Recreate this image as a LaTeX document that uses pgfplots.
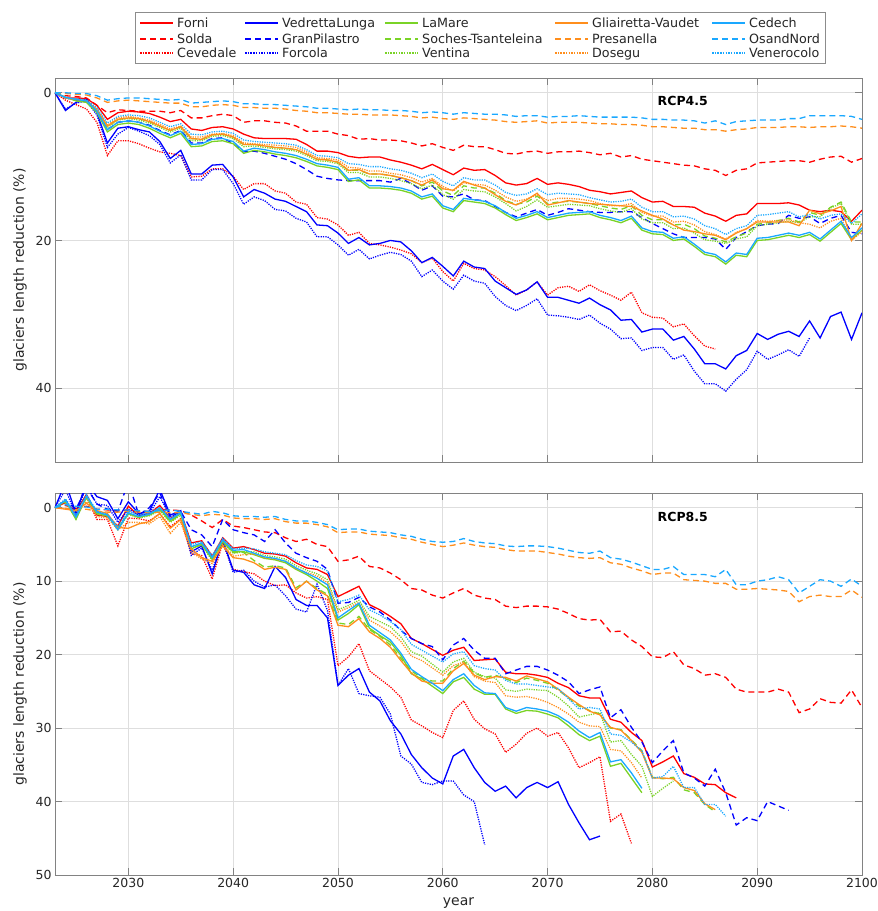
\documentclass[border=0pt]{standalone}
\usepackage{fontspec}
\setmainfont{DejaVu Sans}
\usepackage{pgfplots}
\usepackage{pgfplotstable}
\pgfplotsset{compat=1.18}

\definecolor{cr}{RGB}{255,0,0}
\definecolor{cb}{RGB}{0,0,255}
\definecolor{cg}{RGB}{122,211,38}
\definecolor{co}{RGB}{255,142,28}
\definecolor{cl}{RGB}{26,168,255}
\definecolor{axgray}{RGB}{130,130,130}

\tikzset{
  lsol/.style={line width=1.3pt, solid},
  ldas/.style={line width=1.3pt, dash pattern=on 6pt off 4pt},
  ldot/.style={line width=1.3pt, dash pattern=on 1.2pt off 1.2pt},
}

% RCP4.5
\pgfplotstableread{
yr Fo So Ce VL GP Fc LM ST Vt GV Pr Do Cd ON Vn
2023 0 0 0 0 0 0 0 0 0 0 0 0 0 0 0
2024 0.7 0.4 1.0 2.4 0.7 2.2 0.6 0.7 0.7 0.7 0.1 0.7 0.6 0.0 0.7
2025 0.7 0.5 1.6 1.3 1.0 1.4 1.1 0.9 1.0 0.9 0.2 0.9 0.9 0.1 0.8
2026 0.8 0.7 2.2 0.9 1.2 1.1 1.3 1.1 1.1 1.1 0.3 1.0 1.1 0.1 1.0
2027 1.7 1.7 4.0 2.7 2.5 3.0 2.7 2.3 2.4 2.3 0.7 2.2 2.5 0.4 2.0
2028 3.6 2.7 8.5 6.8 5.0 7.4 5.3 4.5 4.7 4.5 1.3 4.4 5.0 1.0 4.1
2029 2.7 2.3 6.5 4.8 4.0 5.6 4.3 3.6 3.7 3.6 1.1 3.4 4.0 0.8 3.2
2030 2.5 2.4 6.5 4.6 3.8 4.7 4.1 3.4 3.5 3.4 1.0 3.2 3.8 0.7 3.0
2031 2.6 2.5 6.9 5.0 4.0 5.2 4.3 3.5 3.7 3.5 1.1 3.4 4.0 0.7 3.1
2032 2.8 2.5 7.5 5.3 4.4 5.8 4.8 3.9 4.1 3.9 1.2 3.7 4.5 0.8 3.4
2033 3.3 2.5 8.0 6.6 5.1 7.0 5.5 4.5 4.7 4.5 1.3 4.3 5.2 0.9 4.0
2034 3.9 2.7 8.2 8.9 5.7 9.5 6.1 5.1 5.3 5.1 1.4 4.9 5.8 1.0 4.6
2035 3.6 2.4 8.5 7.8 5.1 8.4 5.5 4.6 4.8 4.6 1.4 4.5 5.2 0.9 4.2
2036 4.9 3.4 11.4 11.0 6.8 11.8 7.3 6.2 6.5 6.2 1.9 6.0 7.0 1.4 5.6
2037 5.1 3.4 11.3 11.0 6.8 11.8 7.2 6.3 6.5 6.3 1.9 6.0 6.9 1.3 5.7
2038 4.7 3.1 10.3 9.8 6.2 10.4 6.6 5.7 5.9 5.7 1.7 5.6 6.3 1.2 5.3
2039 4.6 2.9 10.3 9.7 6.1 10.4 6.5 5.6 5.8 5.6 1.6 5.5 6.2 1.1 5.2
2040 4.9 3.1 11.3 11.4 6.9 12.3 6.9 6.0 6.2 6.0 1.7 5.8 6.6 1.2 5.5
2041 5.6 4.0 13.1 14.1 8.0 15.1 8.2 7.0 7.3 7.0 2.0 6.8 7.9 1.5 6.4
2042 6.1 3.8 12.3 13.1 7.9 14.1 7.8 7.0 7.2 7.0 2.0 6.9 7.5 1.5 6.6
2043 6.2 3.8 12.3 13.6 8.2 14.6 8.0 7.2 7.4 7.2 2.1 7.0 7.7 1.6 6.7
2044 6.2 4.0 13.3 14.4 8.6 15.8 8.3 7.4 7.6 7.4 2.1 7.1 8.0 1.6 6.8
2045 6.2 4.1 13.6 14.7 9.0 16.0 8.5 7.5 7.7 7.5 2.2 7.2 8.2 1.7 6.9
2046 6.3 4.5 14.8 15.4 9.6 17.0 8.8 7.7 7.9 7.7 2.4 7.4 8.5 1.8 7.1
2047 7.0 5.2 15.1 16.1 10.4 17.5 9.3 8.3 8.5 8.3 2.5 8.0 9.0 1.9 7.7
2048 7.9 5.2 16.9 17.9 11.3 19.5 9.9 9.0 9.2 9.0 2.7 8.8 9.6 2.1 8.5
2049 7.9 5.2 17.1 18.0 11.6 19.5 10.1 9.1 9.3 9.1 2.7 8.9 9.8 2.1 8.6
2050 8.1 5.6 17.9 19.0 11.8 20.6 10.4 9.4 9.6 9.4 2.8 9.1 10.1 2.2 8.8
2051 8.6 5.8 19.3 20.4 11.9 22.0 12.0 10.5 10.8 10.5 2.9 10.1 11.7 2.3 9.6
2052 8.8 6.3 18.9 19.6 11.9 21.2 11.8 10.5 10.8 10.4 2.9 10.2 11.5 2.2 9.7
2053 8.7 6.2 20.4 20.6 11.9 22.5 12.9 11.0 11.4 11.0 3.0 10.6 12.6 2.3 10.0
2054 8.7 6.4 20.6 20.4 11.9 22.0 12.9 11.0 11.4 11.0 3.0 10.6 12.6 2.3 10.0
2055 9.1 6.4 20.9 20.0 12.1 21.6 13.0 11.2 11.6 11.2 3.0 10.9 12.7 2.4 10.3
2056 9.4 6.5 21.3 20.2 11.6 21.9 13.2 11.5 11.9 11.5 3.1 11.1 12.9 2.4 10.5
2057 9.8 6.8 21.8 21.4 12.3 22.8 13.6 11.9 12.3 11.9 3.2 11.5 13.3 2.5 10.9
2058 10.3 7.2 23.0 23.0 13.2 24.9 14.4 12.6 13.0 12.5 3.4 12.1 14.1 2.7 11.5
2059 9.7 6.9 22.4 22.3 12.6 24.0 14.0 12.1 12.5 11.8 3.3 11.6 13.7 2.6 11.0
2060 10.4 7.4 24.2 23.5 14.0 25.5 15.6 13.3 13.8 13.0 3.5 12.7 15.3 2.7 12.0
2061 11.1 7.8 25.5 24.8 14.1 26.6 16.1 13.9 14.4 13.2 3.6 13.3 15.8 2.9 12.6
2062 10.2 7.1 23.1 22.8 13.7 24.7 14.6 12.6 13.1 12.0 3.4 12.2 14.3 2.7 11.5
2063 10.5 7.3 23.8 23.6 14.5 25.5 14.8 12.9 13.3 12.5 3.5 12.4 14.5 2.8 11.8
2064 10.4 7.3 24.0 23.8 14.6 25.8 15.0 12.9 13.4 12.9 3.6 12.5 14.7 2.9 11.8
2065 11.2 7.7 24.9 25.5 15.4 27.6 15.6 13.6 14.1 13.8 3.7 13.2 15.3 2.9 12.5
2066 12.2 8.2 26.1 26.4 16.2 28.8 16.5 14.6 15.0 14.7 3.9 14.1 16.2 3.0 13.5
2067 12.5 8.3 27.4 27.3 16.8 29.5 17.3 15.1 16.0 15.2 4.0 14.7 17.0 3.2 13.9
2068 12.3 8.0 26.7 26.7 16.3 28.8 16.9 14.8 15.4 14.5 3.9 14.4 16.6 3.1 13.7
2069 11.6 7.9 25.6 25.6 15.8 27.9 16.4 14.0 14.5 13.6 3.8 13.8 16.1 3.1 13.0
2070 12.4 8.2 27.4 27.7 16.6 30.1 17.2 15.0 15.5 15.2 4.1 14.6 16.9 3.3 13.8
2071 12.2 8.0 26.4 27.7 16.2 30.2 16.9 14.8 15.3 14.9 4.0 14.3 16.6 3.2 13.6
2072 12.4 8.0 26.2 28.1 15.7 30.4 16.6 14.7 15.1 14.6 4.0 14.3 16.3 3.2 13.7
2073 12.7 7.9 26.9 28.5 15.9 30.7 16.5 14.8 15.2 14.8 4.0 14.4 16.2 3.1 13.8
2074 13.2 8.1 26.0 27.8 16.1 30.1 16.4 15.0 15.3 15.0 4.1 14.6 16.1 3.2 14.2
2075 13.4 8.4 26.8 28.7 16.2 31.2 16.9 15.3 15.7 15.1 4.2 15.0 16.6 3.3 14.5
2076 13.7 8.2 27.4 29.4 16.2 32.0 17.2 15.6 16.0 15.2 4.2 15.3 16.9 3.3 14.8
2077 13.5 8.7 28.1 30.8 16.1 33.3 17.6 15.8 16.2 15.3 4.3 15.3 17.3 3.3 14.7
2078 13.3 8.5 27.0 30.7 16.1 33.2 17.0 15.3 15.7 15.4 4.3 15.0 16.7 3.3 14.4
2079 14.2 9.0 29.8 32.4 16.9 34.9 18.6 16.6 17.1 16.0 4.4 16.2 18.3 3.4 15.5
2080 14.8 9.2 30.4 32.0 17.7 34.5 19.1 17.2 17.6 16.6 4.6 16.7 18.8 3.6 16.1
2081 14.7 9.4 30.5 32.0 18.4 34.5 19.2 17.2 17.6 17.1 4.6 16.7 18.9 3.6 16.1
2082 15.4 9.6 31.7 33.5 19.1 36.1 20.0 17.9 18.4 17.9 4.7 17.5 19.7 3.7 16.8
2083 15.4 9.8 31.3 33.0 19.6 35.5 19.8 17.8 18.3 18.6 4.8 17.4 19.5 3.7 16.7
2084 15.5 9.9 32.9 34.7 19.6 37.7 20.8 18.4 19.0 18.8 4.8 17.9 20.5 3.8 17.1
2085 16.3 10.3 34.3 36.7 19.6 39.4 21.9 19.4 19.9 19.1 5.0 18.8 21.6 4.1 18.0
2086 16.7 10.5 34.7 36.7 19.8 39.4 22.2 19.7 20.1 19.3 5.0 19.2 21.9 3.8 18.4
2087 17.4 11.2 nan 37.4 21.2 40.4 23.2 20.2 20.4 19.9 5.2 19.8 22.9 4.3 19.2
2088 16.6 10.5 nan 35.6 19.6 38.8 22.0 19.5 19.8 19.0 5.0 18.9 21.7 3.9 18.4
2089 16.4 10.3 nan 34.9 18.8 37.5 22.2 19.0 19.5 18.4 4.9 18.4 21.9 3.8 18.0
2090 15.0 9.5 nan 32.6 18.0 35.0 20.0 17.8 18.0 17.5 4.7 17.3 19.7 3.7 16.6
2091 15.0 9.4 nan 33.4 17.8 36.1 19.9 17.6 17.8 17.5 4.7 17.4 19.6 3.7 16.5
2092 15.0 9.3 nan 32.7 17.7 35.5 19.6 17.3 17.6 17.5 4.7 17.3 19.3 3.7 16.3
2093 14.9 9.2 nan 32.3 16.6 34.8 19.3 17.0 17.4 17.5 4.6 17.2 19.0 3.5 16.1
2094 15.2 9.2 nan 33.0 17.0 35.7 19.6 17.5 17.6 18.0 4.6 17.6 19.3 3.5 16.8
2095 15.9 9.4 nan 30.9 16.8 33.2 19.2 16.2 16.8 15.9 4.7 17.8 18.9 3.1 16.5
2096 16.1 9.0 nan 33.2 17.7 nan 20.1 16.6 16.8 16.4 4.6 18.3 19.8 3.1 17.1
2097 15.9 8.7 nan 30.3 17.0 nan 18.9 15.5 15.6 16.0 4.6 17.4 18.6 3.1 16.6
2098 16.1 8.6 nan 29.7 16.6 nan 17.7 14.8 15.0 15.4 4.5 17.0 17.4 3.1 16.4
2099 17.4 9.4 nan 33.4 18.9 nan 19.9 17.5 17.8 20.0 4.6 20.0 19.6 3.2 17.7
2100 15.9 8.9 nan 29.8 19.1 nan 18.6 17.5 17.8 17.7 4.8 18.8 18.3 3.6 16.4
}\toptab

% RCP8.5
\pgfplotstableread{
yr Fo So Ce VL GP Fc LM ST Vt GV Pr Do Cd ON Vn
2023 0 0 0 0 0 0 0 0 0 0 0 0 0 0 0
2024 -0.7 -0.3 -1.0 -3.5 -1.0 -2.5 -1.0 -0.8 -0.8 0.2 0.1 0.1 -1.0 -0.4 -1.2
2025 0.5 0.1 1.0 0.8 0.2 1.0 1.6 1.4 1.5 0.4 0.3 0.5 1.3 -0.2 1.0
2026 -1.8 -0.2 -1.5 -3.5 -2.8 -3.0 -1.5 -1.4 -1.3 -0.6 0.2 -0.8 -1.6 -0.1 -1.8
2027 1.0 0.2 1.6 -1.5 -0.5 -0.5 0.8 0.8 0.9 0.4 0.5 1.2 0.6 0.2 0.5
2028 1.2 0.3 1.6 -1.0 0.2 -0.3 1.0 1.1 1.2 0.8 0.6 1.4 1.0 0.2 0.9
2029 2.5 0.4 5.2 1.5 0.5 2.0 2.8 2.8 3.0 2.7 0.6 3.0 3.0 0.3 2.6
2030 -0.2 0.3 1.4 -0.8 -3.5 0.2 0.8 0.8 0.9 2.8 0.5 2.0 0.7 0.3 0.5
2031 1.1 0.5 1.5 0.8 1.0 1.0 1.3 1.3 1.4 2.2 0.6 2.0 1.2 0.4 1.0
2032 0.8 0.5 1.8 0.5 0.0 0.8 1.0 1.0 1.1 1.9 0.7 2.2 0.9 0.5 0.7
2033 -0.3 0.2 0.8 -2.5 -2.0 -1.5 0.2 0.3 0.4 0.8 0.6 1.2 0.0 0.4 0.0
2034 1.5 0.3 2.6 1.0 1.3 1.2 1.8 1.9 2.0 2.8 0.7 3.5 1.6 0.3 1.5
2035 0.6 0.4 1.5 0.4 0.5 0.6 0.8 0.9 1.0 1.6 0.7 2.0 0.7 0.5 0.6
2036 4.8 1.0 6.3 6.0 3.0 6.5 5.6 5.5 5.4 5.6 0.9 6.0 5.3 0.7 5.0
2037 4.5 1.8 6.5 5.2 3.7 5.5 5.0 5.0 5.1 6.8 1.1 7.0 4.8 0.9 4.6
2038 6.6 2.7 9.7 9.0 5.3 8.5 7.0 7.0 7.2 7.3 0.9 7.6 6.8 0.5 6.5
2039 4.1 1.6 4.8 4.3 1.6 4.5 4.6 4.6 4.7 5.2 1.0 5.0 4.4 0.7 4.2
2040 5.5 2.5 8.4 8.5 3.0 8.8 6.0 6.1 6.2 6.8 1.4 6.6 5.8 1.1 5.6
2041 5.3 2.7 8.7 8.8 3.4 8.5 6.0 6.1 6.0 7.0 1.5 6.4 5.7 1.2 5.5
2042 5.7 3.0 9.0 10.5 3.7 10.0 6.4 7.2 6.0 7.5 1.5 6.3 6.2 1.2 5.6
2043 6.2 3.3 10.0 11.0 4.6 10.8 6.9 8.1 6.5 8.4 1.6 6.8 6.7 1.3 6.0
2044 6.3 3.4 10.6 8.0 3.0 10.5 7.1 7.9 6.7 8.1 1.5 7.0 6.9 1.2 6.2
2045 6.6 4.1 10.5 9.5 4.8 12.0 7.5 8.2 7.0 8.4 1.9 7.3 7.3 1.6 6.4
2046 7.5 4.6 11.6 12.5 6.2 13.8 8.4 10.9 7.9 11.2 2.1 8.3 8.2 1.8 7.2
2047 8.2 4.3 12.3 13.3 6.8 14.2 9.1 10.0 8.5 10.0 2.1 8.8 8.9 1.8 7.8
2048 8.4 5.0 12.1 13.3 7.3 10.4 10.0 11.0 9.0 11.2 2.3 9.3 9.6 2.0 8.0
2049 9.1 5.3 12.5 15.0 8.4 14.0 11.0 11.8 9.8 12.0 2.6 10.2 10.5 2.3 8.6
2050 12.1 7.3 21.5 24.2 13.0 24.2 15.3 15.7 13.9 16.0 3.4 14.2 15.0 3.0 12.8
2051 11.4 7.1 20.3 22.8 12.9 21.9 14.4 15.9 13.3 16.2 3.3 13.6 14.0 2.9 12.5
2052 10.7 6.6 18.5 21.9 12.2 25.3 13.2 14.8 12.6 15.1 3.3 12.9 13.0 2.9 11.9
2053 13.2 8.0 22.2 25.1 13.5 25.6 16.4 16.6 14.8 16.9 3.6 15.3 16.0 3.2 13.9
2054 13.9 8.2 23.3 26.3 14.2 25.8 17.4 17.5 15.5 17.8 3.7 16.1 17.0 3.3 14.6
2055 14.8 8.9 24.4 29.0 15.3 28.1 18.3 18.7 16.2 19.0 3.8 16.9 18.0 3.4 15.5
2056 15.8 9.8 25.8 30.8 16.7 33.8 20.1 20.5 17.6 20.8 4.1 18.2 19.8 3.7 16.6
2057 17.8 11.0 28.9 33.6 17.8 34.9 22.6 22.2 19.6 22.5 4.3 20.2 22.0 3.9 18.6
2058 18.5 11.2 29.7 35.4 18.5 37.4 23.3 23.2 20.2 23.6 4.7 20.8 23.0 4.3 19.4
2059 19.3 11.9 30.6 36.8 18.9 37.7 24.3 23.6 21.3 23.9 5.0 21.8 23.9 4.6 20.2
2060 20.1 12.3 31.3 37.6 20.7 37.2 25.3 23.6 22.4 23.9 5.3 22.8 24.9 4.7 21.0
2061 19.4 11.6 27.6 33.8 18.7 37.2 23.7 21.9 21.0 22.2 5.1 21.5 23.4 4.6 19.9
2062 19.0 11.0 26.3 32.9 17.8 39.1 23.1 20.9 20.5 21.2 4.8 21.0 22.6 4.2 19.6
2063 20.8 11.9 28.8 35.4 19.4 40.0 24.7 22.5 22.4 22.8 5.1 23.0 24.2 4.6 21.5
2064 20.7 12.3 30.1 37.4 20.5 45.9 25.4 23.1 23.0 23.4 5.3 23.6 25.2 4.8 21.9
2065 20.6 12.5 30.8 38.6 20.5 nan 25.4 22.8 23.2 23.0 5.4 23.8 25.3 4.9 22.1
2066 22.4 13.4 33.3 37.9 22.6 nan 27.4 23.3 24.8 23.1 5.7 25.6 27.2 5.2 23.5
2067 22.6 13.6 32.2 39.5 22.1 nan 28.0 23.8 25.0 23.6 5.9 25.8 27.7 5.3 24.0
2068 22.6 13.4 30.7 38.1 21.6 nan 27.6 23.2 24.7 22.9 5.9 25.7 27.2 5.2 24.0
2069 22.8 13.4 30.0 37.4 21.6 nan 27.7 23.5 24.8 23.3 5.9 26.0 27.4 5.2 24.2
2070 23.1 13.5 31.1 38.1 22.1 nan 28.1 23.9 24.9 23.7 6.1 26.5 27.7 5.3 24.4
2071 23.9 13.8 30.6 37.3 22.8 nan 28.6 24.8 25.8 24.7 6.3 27.2 28.3 5.5 24.6
2072 24.5 14.4 32.7 40.4 23.7 nan 29.7 25.9 27.0 25.8 6.6 28.1 29.2 5.8 26.0
2073 25.6 15.1 35.4 42.9 25.3 nan 30.9 27.0 28.5 26.8 6.8 29.2 30.4 6.1 27.4
2074 25.9 15.3 34.7 45.2 24.8 nan 31.7 27.6 28.2 27.7 6.9 29.7 31.3 6.2 27.2
2075 25.9 15.2 33.9 44.7 24.4 nan 31.1 28.1 27.9 28.2 6.8 29.8 30.6 5.9 27.4
2076 28.8 16.9 42.7 nan 28.6 nan 35.2 30.0 31.9 29.9 7.5 32.9 34.6 6.8 30.8
2077 29.2 16.8 41.7 nan 27.5 nan 34.8 30.2 31.7 30.3 7.7 33.1 34.3 7.0 31.0
2078 30.6 18.0 45.7 nan 29.9 nan 36.8 31.6 33.6 31.7 8.2 34.7 36.1 7.4 31.9
2079 31.7 18.9 nan nan 31.9 nan 38.8 33.1 35.2 33.3 8.6 36.8 38.2 7.9 33.1
2080 35.3 20.3 nan nan 34.7 nan nan 36.7 39.3 36.8 9.1 nan nan 8.4 36.8
2081 34.6 20.4 nan nan 33.1 nan nan 36.9 38.2 36.8 8.9 nan nan 8.4 36.6
2082 33.8 19.6 nan nan 31.7 nan nan 36.7 37.2 36.9 8.9 nan nan 8.0 35.2
2083 36.2 21.4 nan nan 36.1 nan nan 38.4 nan 38.1 9.8 nan nan 9.1 38.1
2084 36.7 21.9 nan nan 36.8 nan nan 38.8 nan 38.5 9.9 nan nan 9.1 38.1
2085 37.6 22.8 nan nan 37.9 nan nan 40.4 nan 40.3 10.0 nan nan 9.1 40.4
2086 37.7 22.6 nan nan 35.6 nan nan 41.4 nan 41.1 10.3 nan nan 9.4 40.4
2087 38.8 23.1 nan nan 38.8 nan nan nan nan nan 10.3 nan nan 8.4 42.0
2088 39.5 24.7 nan nan 43.2 nan nan nan nan nan 11.1 nan nan 10.5 nan
2089 nan 25.1 nan nan 42.2 nan nan nan nan nan 11.1 nan nan 10.5 nan
2090 nan 25.1 nan nan 42.6 nan nan nan nan nan 11.0 nan nan 10.0 nan
2091 nan 25.1 nan nan 40.0 nan nan nan nan nan 11.1 nan nan 9.8 nan
2092 nan 24.7 nan nan 40.6 nan nan nan nan nan 11.2 nan nan 9.4 nan
2093 nan 25.1 nan nan 41.2 nan nan nan nan nan 11.4 nan nan 9.8 nan
2094 nan 27.9 nan nan nan nan nan nan nan nan 12.8 nan nan 11.6 nan
2095 nan 27.4 nan nan nan nan nan nan nan nan 12.1 nan nan 10.7 nan
2096 nan 26.0 nan nan nan nan nan nan nan nan 11.9 nan nan 9.8 nan
2097 nan 26.5 nan nan nan nan nan nan nan nan 12.1 nan nan 10.0 nan
2098 nan 26.6 nan nan nan nan nan nan nan nan 12.1 nan nan 10.7 nan
2099 nan 24.8 nan nan nan nan nan nan nan nan 11.2 nan nan 9.7 nan
2100 nan 27.2 nan nan nan nan nan nan nan nan 12.2 nan nan 10.7 nan
}\bottab

\pgfplotsset{
  glac/.style={
    scale only axis, width=807pt,
    xmin=2023, xmax=2100, ymin=-2, ymax=50,
    y dir=reverse,
    xtick={2030,2040,...,2100},
    grid=major,
    major grid style={black!13, line width=0.6pt},
    tick pos=both, tick align=inside,
    major tick length=7pt,
    every tick/.style={axgray, line width=0.8pt},
    axis line style={axgray, line width=0.9pt},
    tick label style={font=\fontsize{12.5}{14}\selectfont, text=black!85},
    /pgf/number format/assume math mode=true,
    /pgf/number format/1000 sep={},
    label style={font=\fontsize{14}{16}\selectfont, text=black!85},
    ylabel={glaciers length reduction (\%)},
    ylabel style={at={(axis description cs:-0.0434,0.5)}, anchor=center},
    unbounded coords=discard,
  },
}

\newcommand{\allseries}[1]{%
  \addplot[color=cr, lsol, forget plot] table[x=yr,y=Fo]{#1};
  \addplot[color=cr, ldas, forget plot] table[x=yr,y=So]{#1};
  \addplot[color=cr, ldot, forget plot] table[x=yr,y=Ce]{#1};
  \addplot[color=cb, lsol, forget plot] table[x=yr,y=VL]{#1};
  \addplot[color=cb, ldas, forget plot] table[x=yr,y=GP]{#1};
  \addplot[color=cb, ldot, forget plot] table[x=yr,y=Fc]{#1};
  \addplot[color=cg, lsol, forget plot] table[x=yr,y=LM]{#1};
  \addplot[color=cg, ldas, forget plot] table[x=yr,y=ST]{#1};
  \addplot[color=cg, ldot, forget plot] table[x=yr,y=Vt]{#1};
  \addplot[color=co, lsol, forget plot] table[x=yr,y=GV]{#1};
  \addplot[color=co, ldas, forget plot] table[x=yr,y=Pr]{#1};
  \addplot[color=co, ldot, forget plot] table[x=yr,y=Do]{#1};
  \addplot[color=cl, lsol, forget plot] table[x=yr,y=Cd]{#1};
  \addplot[color=cl, ldas, forget plot] table[x=yr,y=ON]{#1};
  \addplot[color=cl, ldot, forget plot] table[x=yr,y=Vn]{#1};
}

% legend sample line: x of sample start, y of row centre, colour, style
\newcommand{\lgline}[4]{\draw[color=#3, #4, line width=1.8pt] (#1pt,#2pt) -- ++(33pt,0pt);}
% legend text
\newcommand{\lgtext}[3]{\node[anchor=base west, inner sep=0pt, text=black!85,
  font=\fontsize{12.7}{14}\selectfont] at ([xshift=37pt,yshift=-4.5pt]#1pt,#2pt) {#3};}

\begin{document}
\begin{tikzpicture}
\useasboundingbox (0,0) rectangle (878pt,911pt);

\begin{axis}[glac,
  at={(55pt,449pt)}, anchor=south west, height=384pt,
  ytick={0,20,40},
  xticklabel=\empty,
]
\allseries{\toptab}
\node[font=\bfseries\fontsize{12.5}{14}\selectfont] at (axis cs:2082.9,1.1) {RCP4.5};
\end{axis}

\begin{axis}[glac,
  at={(55pt,36pt)}, anchor=south west, height=382pt,
  ytick={0,10,...,50},
  xlabel={year},
  xlabel style={at={(axis description cs:0.5,-0.073)}, anchor=center},
]
\allseries{\bottab}
\node[font=\bfseries\fontsize{12.5}{14}\selectfont] at (axis cs:2082.9,1.2) {RCP8.5};
\end{axis}

% legend box and samples (all lines first, then all texts)
\draw[black!45, line width=0.6pt, fill=white] (135pt,847.7pt) rectangle (825pt,898.3pt);
\lgline{140}{888}{cr}{solid}
\lgline{245}{888}{cb}{solid}
\lgline{385}{888}{cg}{solid}
\lgline{555}{888}{co}{solid}
\lgline{712}{888}{cl}{solid}
\lgline{140}{872}{cr}{dash pattern=on 6pt off 4pt}
\lgline{245}{872}{cb}{dash pattern=on 6pt off 4pt}
\lgline{385}{872}{cg}{dash pattern=on 6pt off 4pt}
\lgline{555}{872}{co}{dash pattern=on 6pt off 4pt}
\lgline{712}{872}{cl}{dash pattern=on 6pt off 4pt}
\lgline{140}{858}{cr}{dash pattern=on 1.5pt off 1.2pt}
\lgline{245}{858}{cb}{dash pattern=on 1.5pt off 1.2pt}
\lgline{385}{858}{cg}{dash pattern=on 1.5pt off 1.2pt}
\lgline{555}{858}{co}{dash pattern=on 1.5pt off 1.2pt}
\lgline{712}{858}{cl}{dash pattern=on 1.5pt off 1.2pt}
\lgtext{140}{888}{Forni}
\lgtext{245}{888}{VedrettaLunga}
\lgtext{385}{888}{LaMare}
\lgtext{555}{888}{Gliairetta-Vaudet}
\lgtext{712}{888}{Cedech}
\lgtext{140}{872}{Solda}
\lgtext{245}{872}{GranPilastro}
\lgtext{385}{872}{Soches-Tsanteleina}
\lgtext{555}{872}{Presanella}
\lgtext{712}{872}{OsandNord}
\lgtext{140}{858}{Cevedale}
\lgtext{245}{858}{Forcola}
\lgtext{385}{858}{Ventina}
\lgtext{555}{858}{Dosegu}
\lgtext{712}{858}{Venerocolo}
\end{tikzpicture}
\end{document}
